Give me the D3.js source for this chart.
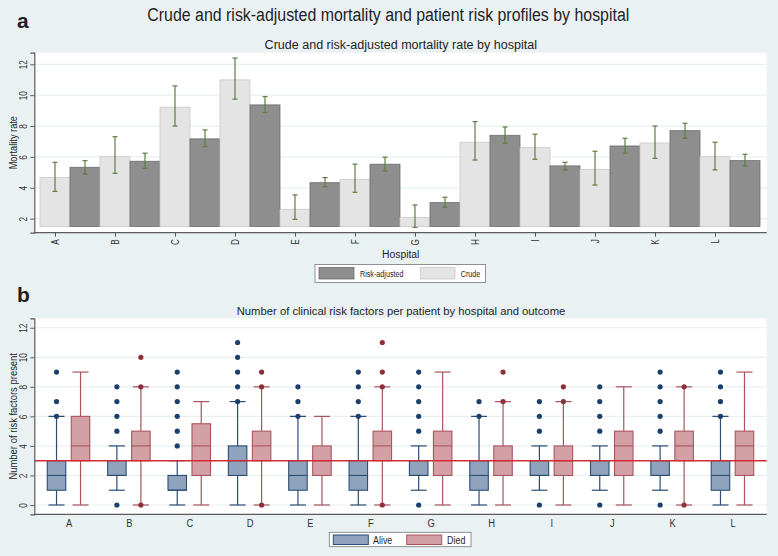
<!DOCTYPE html>
<html><head><meta charset="utf-8">
<script src="https://cdn.jsdelivr.net/npm/d3@7"></script>
<style>
html,body{margin:0;padding:0;background:#eaf1f3;}
svg{display:block;}
text{font-family:"Liberation Sans",Arial,sans-serif;fill:#1f1f1f;}
</style></head>
<body>
<svg id="chart" width="778" height="556"></svg>
<script>
// ---------- data ----------
const hospitals = ["A","B","C","D","E","F","G","H","I","J","K","L"];
// Panel a: mortality rates (%)
const crude      = [4.66, 6.02, 9.22, 10.99, 2.61, 4.55, 2.09, 6.95, 6.60, 5.20, 6.90, 6.02];
const crudeLo    = [3.77, 4.94, 8.00, 9.74, 1.96, 3.71, 1.44, 5.80, 5.85, 4.18, 5.91, 5.16];
const crudeHi    = [5.65, 7.31, 10.60, 12.40, 3.54, 5.53, 2.89, 8.29, 7.47, 6.37, 8.00, 6.95];
const adjusted   = [5.33, 5.72, 7.17, 9.37, 4.33, 5.53, 3.04, 7.40, 5.42, 6.71, 7.70, 5.76];
const adjLo      = [4.88, 5.27, 6.67, 8.87, 4.07, 5.09, 2.74, 6.89, 5.16, 6.24, 7.21, 5.42];
const adjHi      = [5.76, 6.24, 7.75, 9.91, 4.66, 5.98, 3.39, 7.94, 5.65, 7.21, 8.18, 6.17];
const barBase    = 1.5;
const rateTicks  = [2, 4, 6, 8, 10, 12];
// Panel b: number of risk factors, box plot summaries [whiskerLow, q1, median, q3, whiskerHigh]
const aliveBox = [
  [0,1,2,3,6],[1,2,2,3,4],[0,1,1,2,3],[0,2,3,4,7],[0,1,2,3,6],[0,1,2,3,6],
  [1,2,2,3,4],[0,1,2,3,6],[1,2,2,3,4],[1,2,2,3,4],[1,2,2,3,4],[0,1,2,3,6]
];
const aliveOut = [
  [6,7,9],[0,5,6,7,8],[4,5,6,7,8,9],[7,8,9,10,11],[6,7,8],[6,7,8,9],
  [0,5,6,7,8,9],[6,7],[0,5,6,7],[0,5,6,7,8],[0,5,6,7,8,9],[6,7,8,9]
];
const diedBox = [
  [0,3,4,6,9],[0,3,4,5,8],[0,2,4,5.5,7],[0,3,4,5,8],[0,2,3,4,6],[0,3,4,5,8],
  [0,2,4,5,9],[0,2,3,4,7],[0,2,3,4,7],[0,2,4,5,8],[0,3,4,5,8],[0,2,4,5,9]
];
const diedOut = [
  [],[0,8,10],[],[0,8,9],[],[0,8,9,11],
  [],[7,9],[7,8],[],[0,8],[]
];
const riskTicks = [0, 2, 4, 6, 8, 10, 12];
const refLine = 3;

// ---------- styles ----------
const C = {
  bg:"#eaf1f3", plot:"#ffffff", grid:"#e8eff1", axis:"#5a5a5a",
  crudeFill:"#e4e4e4", crudeStroke:"#c8c8c8",
  adjFill:"#8e8e8e", adjStroke:"#6c6c6c", err:"#5e7d43",
  aliveFill:"#8fa3bc", aliveStroke:"#2b4d73", alivePt:"#1a406b",
  diedFill:"#d3a0a6", diedStroke:"#a8545d", diedPt:"#8e2f39",
  ref:"#d42a36"
};
const K = 0.84; // horizontal condensing of the narrow Stata font

const svg = d3.select("#chart");
svg.append("rect").attr("width",778).attr("height",556).attr("fill",C.bg);

// text helper: condensed text placed at (x,y) with optional rotation
function label(parent, x, y, str, size, opts={}){
  const t = parent.append("text")
    .attr("transform",`translate(${x},${y}) rotate(${opts.rot||0}) scale(${opts.k||K},1)`)
    .attr("text-anchor",opts.anchor||"start")
    .style("font-size",size+"px").text(str);
  if(opts.dy) t.attr("dy",opts.dy);
  if(opts.weight) t.style("font-weight",opts.weight);
  if(opts.fill) t.style("fill",opts.fill);
  return t;
}

// titles
label(svg, 388.3, 20.7, "Crude and risk-adjusted mortality and patient risk profiles by hospital", 17.6, {anchor:"middle", k:0.905});
label(svg, 17, 28, "a", 21, {weight:"bold", k:1});
label(svg, 17, 302, "b", 21, {weight:"bold", k:1});

// ---------- Panel a ----------
const L = 34.3, R = 766.7;
const aTop = 52.7, aBot = 232.7;
const ya = d3.scaleLinear().domain([1.093, 12.75]).range([aBot, aTop]);
const xa = d3.scaleBand().domain(hospitals).range([40, 760]).padding(0);
const bw = xa.bandwidth()/2;

label(svg, 400.8, 48.5, "Crude and risk-adjusted mortality rate by hospital", 13.5, {anchor:"middle", k:0.93});

const ga = svg.append("g");
ga.append("rect").attr("x",L).attr("y",aTop).attr("width",R-L).attr("height",aBot-aTop).attr("fill",C.plot);
ga.selectAll("line.grid").data(rateTicks).join("line")
  .attr("x1",L).attr("x2",R).attr("y1",d=>ya(d)).attr("y2",d=>ya(d))
  .attr("stroke",C.grid).attr("stroke-width",1.2);

hospitals.forEach((h,i)=>{
  const x0 = xa(h);
  ga.append("rect").attr("x",x0).attr("y",ya(crude[i])).attr("width",bw)
    .attr("height",ya(barBase)-ya(crude[i])).attr("fill",C.crudeFill).attr("stroke",C.crudeStroke).attr("stroke-width",0.8);
  ga.append("rect").attr("x",x0+bw).attr("y",ya(adjusted[i])).attr("width",bw)
    .attr("height",ya(barBase)-ya(adjusted[i])).attr("fill",C.adjFill).attr("stroke",C.adjStroke).attr("stroke-width",0.8);
  [[x0+bw/2, crudeLo[i], crudeHi[i]],[x0+bw*1.5, adjLo[i], adjHi[i]]].forEach(([cx,lo,hi])=>{
    ga.append("line").attr("x1",cx).attr("x2",cx).attr("y1",ya(lo)).attr("y2",ya(hi)).attr("stroke",C.err).attr("stroke-width",1.2);
    [lo,hi].forEach(v=>ga.append("line").attr("x1",cx-2.5).attr("x2",cx+2.5).attr("y1",ya(v)).attr("y2",ya(v)).attr("stroke",C.err).attr("stroke-width",1.2));
  });
});

// axes panel a
const yAxisA = ga.append("g").attr("transform",`translate(${L},0)`)
  .call(d3.axisLeft(ya).tickValues(rateTicks).tickSize(4));
yAxisA.selectAll(".tick text").attr("transform",`translate(-7.5,0) rotate(-90) scale(0.82,1)`)
  .attr("x",0).attr("y",0).attr("dy",0).attr("text-anchor","middle");
styleAxis(yAxisA);

const xTickScaleA = d3.scalePoint().domain(hospitals).range([xa(hospitals[0])+bw/2, xa(hospitals[11])+bw/2]);
const xAxisA = ga.append("g").attr("transform",`translate(0,${aBot})`)
  .call(d3.axisBottom(xTickScaleA).tickSize(4).tickSizeOuter(0));
xAxisA.select(".domain").attr("d",`M${L},0H${R}`);
xAxisA.selectAll(".tick text").attr("transform","translate(3.3,6.5) rotate(-90) scale(0.82,1)")
  .attr("x",0).attr("y",0).attr("dy",0).attr("text-anchor","end");
styleAxis(xAxisA);

label(svg, 13, (aTop+aBot)/2, "Mortality rate", 11, {anchor:"middle", rot:-90, dy:"0.35em", k:0.84});
label(svg, 400.7, 257.8, "Hospital", 11.5, {anchor:"middle", k:0.9});

// legend a
const lga = svg.append("g");
lga.append("rect").attr("x",315).attr("y",264.5).attr("width",170.5).attr("height",18).attr("fill","#fff").attr("stroke","#777").attr("stroke-width",0.8);
lga.append("rect").attr("x",319).attr("y",267.5).attr("width",35).attr("height",11.5).attr("fill",C.adjFill).attr("stroke",C.adjStroke).attr("stroke-width",0.8);
label(lga, 360, 276.8, "Risk-adjusted", 9, {k:0.8});
lga.append("rect").attr("x",420.5).attr("y",267.5).attr("width",34.5).attr("height",11.5).attr("fill",C.crudeFill).attr("stroke",C.crudeStroke).attr("stroke-width",0.8);
label(lga, 460.7, 276.8, "Crude", 9, {k:0.8});

// ---------- Panel b ----------
const bTop = 318.3, bBot = 514.3;
const yb = d3.scaleLinear().domain([-0.63, 12.64]).range([bBot, bTop]);
const xb = d3.scalePoint().domain(hospitals).range([L, R]).padding(0.567);
const off = 12, boxW = 18.5, capW = 8;

label(svg, 401, 315, "Number of clinical risk factors per patient by hospital and outcome", 11.5, {anchor:"middle", k:0.98});

const gb = svg.append("g");
gb.append("rect").attr("x",L).attr("y",bTop).attr("width",R-L).attr("height",bBot-bTop).attr("fill",C.plot);
gb.selectAll("line.grid").data(riskTicks).join("line")
  .attr("x1",L).attr("x2",R).attr("y1",d=>yb(d)).attr("y2",d=>yb(d))
  .attr("stroke",C.grid).attr("stroke-width",1.2);

function drawBox(cx, s, outs, fill, stroke, pt){
  const [wl,q1,md,q3,wh] = s;
  gb.append("line").attr("x1",cx).attr("x2",cx).attr("y1",yb(q3)).attr("y2",yb(wh)).attr("stroke",stroke).attr("stroke-width",1.2);
  gb.append("line").attr("x1",cx).attr("x2",cx).attr("y1",yb(q1)).attr("y2",yb(wl)).attr("stroke",stroke).attr("stroke-width",1.2);
  [wl,wh].forEach(v=>gb.append("line").attr("x1",cx-capW).attr("x2",cx+capW).attr("y1",yb(v)).attr("y2",yb(v)).attr("stroke",stroke).attr("stroke-width",1.2));
  gb.append("rect").attr("x",cx-boxW/2).attr("y",yb(q3)).attr("width",boxW).attr("height",yb(q1)-yb(q3))
    .attr("fill",fill).attr("stroke",stroke).attr("stroke-width",1.1);
  gb.append("line").attr("x1",cx-boxW/2).attr("x2",cx+boxW/2).attr("y1",yb(md)).attr("y2",yb(md)).attr("stroke",stroke).attr("stroke-width",1.1);
  outs.forEach(v=>gb.append("circle").attr("cx",cx).attr("cy",yb(v)).attr("r",2.6).attr("fill",pt));
}

hospitals.forEach((h,i)=>{
  drawBox(xb(h)-off, aliveBox[i], aliveOut[i], C.aliveFill, C.aliveStroke, C.alivePt);
  drawBox(xb(h)+off, diedBox[i], diedOut[i], C.diedFill, C.diedStroke, C.diedPt);
});
gb.append("line").attr("x1",L).attr("x2",R).attr("y1",yb(refLine)).attr("y2",yb(refLine)).attr("stroke",C.ref).attr("stroke-width",1.6);

const yAxisB = gb.append("g").attr("transform",`translate(${L},0)`)
  .call(d3.axisLeft(yb).tickValues(riskTicks).tickSize(4));
yAxisB.selectAll(".tick text").attr("transform","translate(-7.5,0) rotate(-90) scale(0.82,1)")
  .attr("x",0).attr("y",0).attr("dy",0).attr("text-anchor","middle");
styleAxis(yAxisB);
const xAxisB = gb.append("g").attr("transform",`translate(0,${bBot})`)
  .call(d3.axisBottom(xb).tickSize(0).tickSizeOuter(0));
xAxisB.select(".domain").attr("d",`M${L},0H${R}`);
xAxisB.selectAll(".tick text").attr("transform","translate(0,13) scale(0.85,1)").attr("x",0).attr("y",0).attr("dy",0)
  .attr("text-anchor","middle");
styleAxis(xAxisB);
xAxisB.selectAll(".tick text").style("font-size","11px");

label(svg, 13, (bTop+bBot)/2, "Number of risk factors present", 11, {anchor:"middle", rot:-90, dy:"0.35em", k:0.86});

// legend b
const lgb = svg.append("g");
lgb.append("rect").attr("x",329.3).attr("y",532.3).attr("width",141.7).attr("height",14.4).attr("fill","#fff").attr("stroke","#777").attr("stroke-width",0.8);
lgb.append("rect").attr("x",333.3).attr("y",535).attr("width",35).attr("height",9.5).attr("fill",C.aliveFill).attr("stroke",C.aliveStroke).attr("stroke-width",1);
label(lgb, 373, 543.6, "Alive", 10.5, {k:0.85});
lgb.append("rect").attr("x",406.7).attr("y",535).attr("width",35).attr("height",9.5).attr("fill",C.diedFill).attr("stroke",C.diedStroke).attr("stroke-width",1);
label(lgb, 447, 543.6, "Died", 10.5, {k:0.85});

function styleAxis(g){
  g.select(".domain").attr("stroke",C.axis).attr("stroke-width",1.2);
  g.selectAll(".tick line").attr("stroke",C.axis);
  g.selectAll(".tick text").style("font-size","10px").style("fill","#333")
    .style("font-family","\"Liberation Sans\",Arial,sans-serif");
}
</script>
</body></html>
